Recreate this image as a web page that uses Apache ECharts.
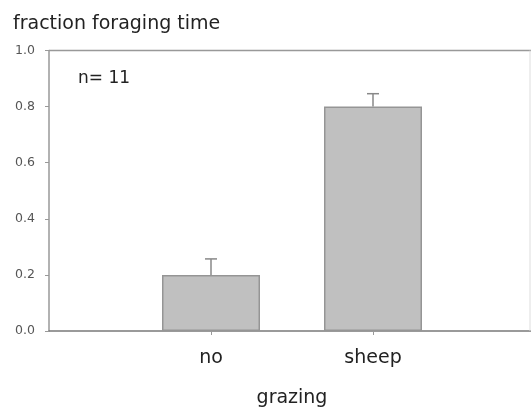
<!DOCTYPE html>
<html><head><meta charset="utf-8">
<script src="https://cdn.jsdelivr.net/npm/echarts@6/dist/echarts.min.js"></script>
<style>html,body{margin:0;padding:0;background:#fff}#c{width:531px;height:407px}</style>
</head><body><div id="c"></div>
<script>
const categories = ['', 'no', 'sheep', ''];
const means = [null, 0.20, 0.80, null];
const errUpper = [null, 0.257, 0.846, null];
const yTicks = ['0.0', '0.2', '0.4', '0.6', '0.8', '1.0'];

const chart = echarts.init(document.getElementById('c'), null, {renderer: 'canvas'});
const font = 'DejaVu Sans, sans-serif';
chart.setOption({
  animation: false,
  grid: {left: 49, right: -4, top: 50.5, bottom: 76, show: false, containLabel: false, outerBoundsMode: 'none'},
  graphic: [
    {type: 'line', shape: {x1: 49, y1: 50.5, x2: 531, y2: 50.5}, style: {stroke: '#999', lineWidth: 1.5}, z: 10},
    {type: 'line', shape: {x1: 530, y1: 50.5, x2: 530, y2: 331}, style: {stroke: '#ddd', lineWidth: 1}, z: 10}
  ],
  title: [
    {text: 'fraction foraging time', left: 8, top: 10, textStyle: {fontFamily: font, fontSize: 19, fontWeight: 'normal', color: '#222'}},
    {text: 'n= 11', left: 73, top: 65, textStyle: {fontFamily: font, fontSize: 17, fontWeight: 'normal', color: '#222'}}
  ],
  xAxis: {
    type: 'category', data: categories, boundaryGap: false,
    name: 'grazing', nameLocation: 'middle', nameGap: 58,
    nameTextStyle: {fontFamily: font, fontSize: 19, color: '#222'},
    axisLine: {lineStyle: {color: '#7a7a7a', width: 1.5}},
    axisTick: {show: true, length: 4, lineStyle: {color: '#999'}, interval: function(i){return i===1||i===2;}},
    axisLabel: {fontFamily: font, fontSize: 19, color: '#222', margin: 18, interval: 0},
    splitLine: {show: false}
  },
  yAxis: {
    type: 'value', min: 0, max: 1, interval: 0.2,
    axisLine: {show: true, lineStyle: {color: '#999', width: 1.5}},
    axisTick: {show: true, length: 4, lineStyle: {color: '#999'}},
    axisLabel: {fontFamily: font, fontSize: 12.5, color: '#555', margin: 14,
      formatter: function(v){ return yTicks[Math.round(v/0.2)]; }},
    splitLine: {show: false}
  },
  series: [
    {
      type: 'bar', data: means, barWidth: 98,
      itemStyle: {color: '#c0c0c0', borderColor: '#959595', borderWidth: 1.5}
    },
    {
      type: 'custom',
      data: categories.map((c, i) => [i, means[i], errUpper[i]]),
      renderItem: function(params, api) {
        if (api.value(1) == null || isNaN(api.value(1))) return;
        const base = api.coord([api.value(0), api.value(1)]);
        const top = api.coord([api.value(0), api.value(2)]);
        const hw = 6;
        return {type: 'group', children: [
          {type: 'line', shape: {x1: base[0], y1: base[1], x2: top[0], y2: top[1]}, style: {stroke: '#888', lineWidth: 1.5}},
          {type: 'line', shape: {x1: top[0]-hw, y1: top[1], x2: top[0]+hw, y2: top[1]}, style: {stroke: '#888', lineWidth: 1.5}}
        ]};
      },
      z: 5
    }
  ]
});
</script></body></html>
